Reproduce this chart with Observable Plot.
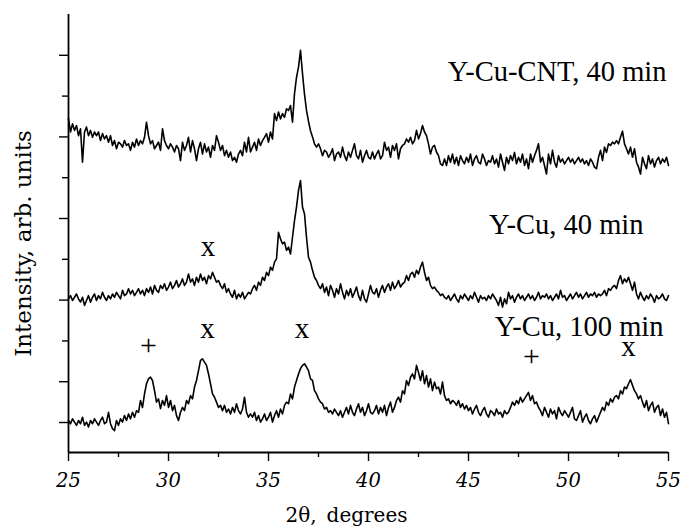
<!DOCTYPE html>
<html>
<head>
<meta charset="utf-8">
<script src="https://cdn.jsdelivr.net/npm/d3@7"></script>
<script src="https://cdn.jsdelivr.net/npm/@observablehq/plot@0.6"></script>
<style>
  html, body { margin: 0; padding: 0; background: #fff; }
  #chart svg g[aria-label="x-axis tick label"] { font-style: italic; }
</style>
</head>
<body>
<div id="chart"></div>
<script>
// 2θ sampling of the digitised patterns (degrees)
const twoThetaStart = 25;
const twoThetaStep = 0.1;

// Intensity (arb. units, stacked as in the figure), one value per 0.1°, 25.0° … 55.0°
const yCuCnt40 = [
7.45, 7.12, 7.32, 7.16, 7.28, 7.03, 7.20, 6.38, 7.12, 7.24,
7.03, 7.16, 6.99, 7.12, 7.03, 7.12, 6.91, 7.08, 6.95, 7.03,
6.87, 7.03, 6.79, 6.91, 6.71, 6.87, 6.83, 6.75, 6.91, 6.79,
6.83, 6.67, 6.87, 6.75, 6.95, 6.79, 6.91, 6.83, 6.99, 7.36,
7.03, 6.83, 6.91, 6.71, 6.79, 6.87, 6.67, 7.20, 6.91, 6.79,
6.71, 6.83, 6.75, 6.63, 6.79, 6.71, 6.42, 6.87, 6.67, 6.79,
6.99, 6.63, 6.91, 6.71, 6.42, 6.71, 6.87, 6.58, 6.83, 6.63,
6.75, 6.50, 6.79, 6.67, 7.03, 6.87, 6.67, 6.79, 6.54, 6.67,
6.50, 6.63, 6.42, 6.50, 6.38, 6.58, 6.67, 6.54, 6.87, 6.63,
6.99, 6.63, 6.75, 6.87, 6.67, 6.95, 6.79, 6.91, 6.99, 7.08,
6.87, 7.12, 6.95, 7.57, 7.40, 7.61, 7.44, 7.57, 7.48, 7.69,
7.65, 7.77, 7.36, 8.06, 8.46, 8.71, 9.12, 8.55, 8.05, 7.65,
7.38, 7.15, 7.00, 6.83, 6.75, 6.83, 6.71, 6.54, 6.67, 6.63,
6.50, 6.58, 6.71, 6.42, 6.58, 6.63, 6.50, 6.75, 6.54, 6.42,
6.63, 6.50, 6.67, 6.83, 6.54, 6.46, 6.67, 6.38, 6.54, 6.67,
6.50, 6.46, 6.63, 6.46, 6.58, 6.67, 6.46, 6.54, 6.87, 6.67,
6.75, 6.50, 6.79, 6.67, 6.83, 6.46, 6.71, 6.79, 6.83, 6.95,
6.87, 6.99, 6.83, 6.91, 7.16, 6.95, 7.08, 7.28, 7.12, 7.03,
6.83, 6.58, 6.75, 6.79, 6.63, 6.54, 6.34, 6.30, 6.46, 6.30,
6.54, 6.38, 6.58, 6.34, 6.50, 6.30, 6.54, 6.42, 6.34, 6.50,
6.38, 6.58, 6.30, 6.46, 6.54, 6.38, 6.34, 6.58, 6.46, 6.30,
6.42, 6.38, 6.54, 6.34, 6.46, 6.26, 6.58, 6.38, 6.18, 6.50,
6.34, 6.54, 6.42, 6.62, 6.34, 6.50, 6.38, 6.58, 6.30, 6.46,
6.22, 6.58, 6.38, 6.54, 6.67, 6.83, 6.38, 6.50, 6.30, 6.09,
6.58, 6.34, 6.67, 6.38, 6.26, 6.54, 6.38, 6.46, 6.34, 6.42,
6.50, 6.38, 6.46, 6.34, 6.42, 6.50, 6.38, 6.46, 6.34, 6.42,
6.30, 6.46, 6.38, 6.26, 6.22, 6.50, 6.67, 6.42, 6.75, 6.62,
6.83, 6.79, 6.87, 6.83, 6.91, 6.83, 6.99, 7.14, 6.83, 6.71,
6.58, 6.75, 6.50, 6.71, 6.38, 6.26, 6.09, 6.50, 6.34, 6.22,
6.54, 6.34, 6.46, 6.26, 6.42, 6.50, 6.34, 6.46, 6.38, 6.50,
6.30];

const yCu40 = [
3.03, 3.11, 2.99, 3.07, 3.15, 3.03, 2.95, 3.07, 2.87, 2.99,
3.11, 2.95, 3.07, 3.15, 2.99, 3.11, 3.03, 3.19, 3.07, 2.99,
3.11, 3.03, 3.15, 3.07, 3.19, 3.11, 3.03, 3.24, 3.11, 3.15,
3.28, 3.15, 3.24, 3.11, 3.19, 3.28, 3.15, 3.24, 3.11, 3.28,
3.19, 3.32, 3.15, 3.36, 3.24, 3.19, 3.36, 3.28, 3.40, 3.24,
3.32, 3.44, 3.28, 3.36, 3.48, 3.32, 3.40, 3.52, 3.36, 3.44,
3.64, 3.44, 3.52, 3.36, 3.56, 3.44, 3.64, 3.48, 3.56, 3.40,
3.60, 3.52, 3.68, 3.56, 3.44, 3.48, 3.36, 3.28, 3.40, 3.19,
3.28, 3.15, 3.07, 3.24, 3.03, 3.15, 3.07, 3.19, 3.03, 3.11,
3.19, 3.15, 3.28, 3.36, 3.24, 3.44, 3.36, 3.56, 3.48, 3.68,
3.60, 3.81, 3.73, 3.93, 4.01, 4.66, 4.50, 4.38, 4.42, 4.22,
4.30, 4.13, 4.54, 4.95, 5.28, 5.69, 5.93, 5.28, 5.11, 4.54,
4.05, 3.93, 3.73, 3.56, 3.48, 3.36, 3.28, 3.40, 3.19, 3.32,
3.11, 3.36, 3.24, 3.07, 3.28, 3.15, 3.40, 3.19, 3.03, 3.24,
3.11, 3.28, 3.07, 3.19, 3.32, 3.11, 2.99, 3.24, 3.03, 2.95,
3.15, 3.36, 3.19, 3.15, 3.28, 3.07, 3.24, 3.36, 3.19, 3.32,
3.40, 3.24, 3.44, 3.28, 3.36, 3.48, 3.32, 3.40, 3.44, 3.60,
3.48, 3.64, 3.68, 3.56, 3.73, 3.64, 3.81, 3.93, 3.68, 3.48,
3.56, 3.36, 3.28, 3.32, 3.24, 3.19, 3.11, 3.15, 3.07, 3.03,
3.11, 2.99, 3.07, 3.15, 3.03, 2.95, 3.11, 3.03, 3.15, 3.07,
2.99, 3.11, 3.03, 3.19, 3.07, 2.95, 3.11, 3.03, 3.07, 2.99,
3.11, 3.03, 3.15, 3.07, 2.99, 2.87, 3.07, 2.83, 3.03, 2.91,
3.19, 3.03, 3.11, 2.95, 3.07, 3.15, 3.03, 3.11, 2.99, 3.07,
3.15, 3.03, 3.11, 2.99, 3.07, 3.19, 3.03, 3.11, 3.07, 3.15,
3.03, 3.11, 2.99, 3.07, 3.15, 3.03, 3.24, 3.07, 3.11, 2.99,
3.07, 3.15, 3.03, 3.11, 3.19, 3.07, 3.15, 3.03, 3.11, 3.19,
3.07, 3.15, 3.11, 3.19, 3.07, 3.15, 3.11, 3.15, 3.24, 3.11,
3.28, 3.24, 3.32, 3.36, 3.28, 3.48, 3.60, 3.40, 3.52, 3.44,
3.56, 3.40, 3.24, 3.44, 3.15, 3.03, 3.19, 3.07, 2.99, 3.11,
3.03, 3.15, 3.07, 2.95, 3.11, 3.03, 3.07, 3.15, 3.03, 2.99,
3.11];

const yCu100 = [
0.05, -0.03, 0.09, 0.01, -0.07, 0.05, -0.03, 0.13, -0.07, 0.01,
-0.11, 0.05, -0.03, 0.09, 0.01, -0.07, 0.05, 0.13, -0.03, 0.01,
0.25, -0.03, -0.15, -0.20, 0.05, -0.07, 0.09, 0.01, 0.17, 0.05,
0.21, 0.09, 0.25, 0.13, 0.29, 0.25, 0.54, 0.37, 0.70, 0.95,
1.07, 1.11, 1.03, 0.78, 0.50, 0.58, 0.34, 0.54, 0.42, 0.66,
0.37, 0.54, 0.29, 0.42, 0.17, 0.05, 0.25, 0.37, 0.29, 0.54,
0.46, 0.66, 0.58, 0.87, 1.03, 1.27, 1.52, 1.56, 1.48, 1.40,
1.19, 0.95, 0.70, 0.62, 0.50, 0.37, 0.42, 0.29, 0.42, 0.25,
0.33, 0.21, 0.37, 0.25, 0.46, 0.29, 0.21, 0.33, 0.62, 0.25,
0.13, 0.21, 0.13, 0.25, 0.05, 0.17, 0.01, 0.09, 0.21, 0.05,
0.13, 0.25, 0.01, 0.17, 0.29, 0.13, 0.33, 0.21, 0.42, 0.50,
0.46, 0.70, 0.58, 0.87, 1.03, 1.19, 1.32, 1.40, 1.44, 1.36,
1.27, 1.07, 1.03, 0.78, 0.70, 0.58, 0.50, 0.46, 0.33, 0.37,
0.25, 0.29, 0.21, 0.33, 0.25, 0.17, 0.29, 0.13, 0.25, 0.37,
0.21, 0.42, 0.25, 0.17, 0.33, 0.46, 0.25, 0.37, 0.17, 0.29,
0.46, 0.25, 0.21, 0.29, 0.42, 0.21, 0.37, 0.25, 0.42, 0.17,
0.37, 0.50, 0.25, 0.37, 0.54, 0.62, 0.50, 0.78, 0.70, 1.03,
0.91, 1.11, 1.19, 1.07, 1.40, 1.23, 1.03, 1.27, 0.95, 1.15,
0.87, 1.07, 0.78, 0.99, 0.83, 0.87, 0.70, 0.99, 0.66, 0.54,
0.58, 0.46, 0.54, 0.50, 0.42, 0.54, 0.37, 0.46, 0.33, 0.42,
0.29, 0.37, 0.21, 0.33, 0.42, 0.25, 0.17, 0.29, 0.37, 0.21,
0.13, 0.29, 0.25, 0.17, 0.33, 0.21, 0.25, 0.13, 0.29, 0.21,
0.25, 0.37, 0.50, 0.42, 0.54, 0.46, 0.62, 0.50, 0.58, 0.66,
0.74, 0.54, 0.66, 0.46, 0.50, 0.37, 0.29, 0.17, 0.37, 0.25,
0.13, 0.33, 0.21, 0.29, 0.09, 0.37, 0.25, 0.17, 0.29, 0.21,
0.13, 0.25, 0.37, 0.09, 0.05, 0.17, 0.29, 0.01, 0.13, 0.21,
0.05, -0.03, 0.09, 0.17, 0.01, 0.13, 0.25, 0.37, 0.29, 0.50,
0.42, 0.58, 0.50, 0.62, 0.66, 0.58, 0.78, 0.70, 0.87, 0.83,
0.95, 1.05, 0.91, 0.78, 0.70, 0.58, 0.66, 0.50, 0.37, 0.54,
0.29, 0.42, 0.50, 0.25, 0.37, 0.42, 0.17, 0.33, 0.13, 0.25,
-0.03];

// Curve labels
const curveNames = ["Y-Cu-CNT, 40 min", "Y-Cu, 40 min", "Y-Cu, 100 min"];
const curveLabelX = [54.9, 53.75, 54.75];
const curveLabelY = [8.36, 4.63, 2.11];

// Phase markers (x and +)
const phaseSymbols = ["x", "x", "x", "+", "+", "x"];
const phaseX = [31.98, 31.95, 36.68, 29.0, 48.15, 53.0];
const phaseY = [4.32, 2.29, 2.29, 1.88, 1.61, 1.85];

// Axes
const xTicks = [25, 30, 35, 40, 45, 50, 55];
const xMinorTicks = [27.5, 32.5, 37.5, 42.5, 47.5, 52.5];
const yMajorTicks = [0, 1, 3, 5, 7, 9];
const yMinorTicks = [2, 4, 6, 8];
const xDomain = [25, 55];
const yDomain = [-0.735, 10];
const xTitle = "2θ,\u2002degrees";
const yTitle = "Intensity, arb. units";

// Build the long table
const seriesList = [
  {name: curveNames[0], values: yCuCnt40},
  {name: curveNames[1], values: yCu40},
  {name: curveNames[2], values: yCu100}
];
const rows = seriesList.flatMap(s => s.values.map((v, i) => ({
  twoTheta: +(twoThetaStart + i * twoThetaStep).toFixed(2),
  intensity: v,
  series: s.name
})));
const labelRows = curveNames.map((t, i) => ({t, x: curveLabelX[i], y: curveLabelY[i]}));
const phaseRows = phaseSymbols.map((s, i) => ({s, x: phaseX[i], y: phaseY[i]}));

const serifTimes = "'Liberation Serif', 'Times New Roman', serif";
const serifBook = "'DejaVu Serif', serif";

const chart = Plot.plot({
  width: 680,
  height: 529,
  marginLeft: 68,
  marginRight: 12,
  marginTop: 14,
  marginBottom: 77,
  x: {domain: xDomain},
  y: {domain: yDomain},
  style: {background: "#fff", color: "#000", fontFamily: serifBook},
  marks: [
    Plot.axisX({ticks: xTicks, tickSize: 9, tickPadding: 12, label: null,
      fontSize: 19.5, fontStyle: "italic", fontFamily: serifBook, strokeWidth: 1.4}),
    Plot.axisX({ticks: xMinorTicks, tickSize: 5, tickFormat: () => "", label: null, strokeWidth: 1.4}),
    Plot.axisY({ticks: yMajorTicks, tickSize: 9, tickFormat: () => "", label: null, strokeWidth: 1.4}),
    Plot.axisY({ticks: yMinorTicks, tickSize: 6, tickFormat: () => "", label: null, strokeWidth: 1.4}),
    Plot.ruleX([xDomain[0]], {stroke: "#000", strokeWidth: 1.8}),
    Plot.ruleY([yDomain[0]], {stroke: "#000", strokeWidth: 1.8}),
    Plot.line(rows, {x: "twoTheta", y: "intensity", z: "series", stroke: "#000", strokeWidth: 1.6, strokeLinejoin: "round"}),
    Plot.text(labelRows, {x: "x", y: "y", text: "t", textAnchor: "end", lineAnchor: "bottom",
      fontFamily: serifTimes, fontSize: 28.5, fill: "#000"}),
    Plot.text(phaseRows.filter(d => d.s === "x"), {x: "x", y: "y", text: "s", lineAnchor: "middle",
      fontFamily: serifTimes, fontSize: 29, fill: "#000"}),
    Plot.text(phaseRows.filter(d => d.s === "+"), {x: "x", y: "y", text: "s", lineAnchor: "middle",
      fontFamily: serifTimes, fontSize: 30, fill: "#000"}),
    Plot.text([xTitle], {frameAnchor: "bottom", text: d => d, dx: -22, dy: 69, lineAnchor: "bottom",
      textAnchor: "middle", fontFamily: serifBook, fontSize: 20, fill: "#000"}),
    Plot.text([yTitle], {frameAnchor: "left", text: d => d, rotate: -90, dx: -45, dy: 10, lineAnchor: "middle",
      textAnchor: "middle", fontFamily: serifBook, fontSize: 23, fill: "#000"})
  ]
});
document.getElementById("chart").appendChild(chart);
</script>
</body>
</html>
